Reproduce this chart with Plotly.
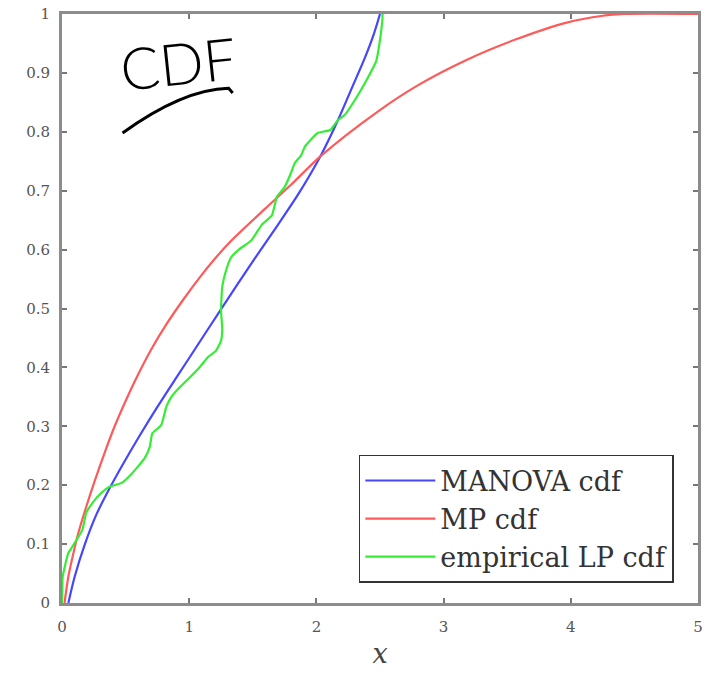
import plotly.graph_objects as go

# MANOVA cdf (blue)
manova_x = [0.05, 0.10, 0.18, 0.27, 0.37, 0.48, 0.61, 0.75, 0.90, 1.00, 1.26, 1.50, 1.70, 1.86, 2.04, 2.17, 2.28, 2.38, 2.45, 2.50]
manova_y = [0.00, 0.045, 0.10, 0.15, 0.193, 0.236, 0.284, 0.333, 0.383, 0.416, 0.502, 0.58, 0.643, 0.695, 0.762, 0.82, 0.875, 0.925, 0.965, 1.00]

# MP cdf (red)
mp_x = [0.02, 0.05, 0.09, 0.13, 0.19, 0.26, 0.34, 0.41, 0.50, 0.58, 0.70, 0.82, 0.95, 1.08, 1.20, 1.33, 1.60, 1.80, 2.04, 2.48, 2.79, 3.18, 3.57, 3.96, 4.25, 4.42, 5.00]
mp_y = [0.00, 0.045, 0.085, 0.12, 0.163, 0.209, 0.258, 0.298, 0.343, 0.38, 0.43, 0.473, 0.514, 0.552, 0.584, 0.615, 0.670, 0.710, 0.760, 0.834, 0.878, 0.922, 0.957, 0.985, 0.997, 1.00, 1.00]

# empirical LP cdf (green)
emp_x = [0.00, 0.005, 0.02, 0.05, 0.08, 0.16, 0.19, 0.24, 0.30, 0.37, 0.47, 0.55, 0.65, 0.69, 0.71, 0.78, 0.82, 0.86, 0.92, 1.00, 1.08, 1.15, 1.21, 1.25, 1.26, 1.25, 1.26, 1.29, 1.33, 1.39, 1.49, 1.57, 1.65, 1.69, 1.75, 1.80, 1.83, 1.88, 1.91, 2.01, 2.11, 2.17, 2.22, 2.32, 2.40, 2.47, 2.50, 2.52, 2.52]
emp_y = [0.00, 0.044, 0.06, 0.085, 0.095, 0.124, 0.153, 0.17, 0.185, 0.197, 0.204, 0.22, 0.246, 0.265, 0.288, 0.302, 0.333, 0.35, 0.365, 0.382, 0.40, 0.418, 0.428, 0.445, 0.465, 0.497, 0.537, 0.565, 0.587, 0.60, 0.616, 0.642, 0.658, 0.69, 0.706, 0.73, 0.747, 0.76, 0.775, 0.798, 0.803, 0.82, 0.828, 0.86, 0.89, 0.92, 0.956, 0.995, 1.00]

x_ticks = [0, 1, 2, 3, 4, 5]
y_ticks = [0, 0.1, 0.2, 0.3, 0.4, 0.5, 0.6, 0.7, 0.8, 0.9, 1]
y_tick_text = ["0", "0.1", "0.2", "0.3", "0.4", "0.5", "0.6", "0.7", "0.8", "0.9", "1"]

fig = go.Figure()
fig.add_trace(go.Scatter(x=manova_x, y=manova_y, mode="lines", name="MANOVA cdf",
                         line=dict(color="#4646ff", width=2.2, shape="spline", smoothing=0.8)))
fig.add_trace(go.Scatter(x=mp_x, y=mp_y, mode="lines", name="MP cdf",
                         line=dict(color="#ff5a5a", width=2.2, shape="spline", smoothing=0.8)))
fig.add_trace(go.Scatter(x=emp_x, y=emp_y, mode="lines", name="empirical LP cdf",
                         line=dict(color="#33ee33", width=2.2, shape="spline", smoothing=0.4)))

axis_common = dict(showgrid=False, zeroline=False, showline=True, linecolor="#8c8c8c", linewidth=3,
                   mirror="ticks", ticks="inside", ticklen=5, tickwidth=1.5, tickcolor="#777",
                   tickfont=dict(family="DejaVu Serif", size=15, color="#555"))

fig.update_xaxes(range=[0, 5], tickvals=x_ticks, ticktext=[str(v) for v in x_ticks],
                 ticklabelstandoff=8,
                 title=dict(text="<i>x</i>", font=dict(family="DejaVu Serif", size=27, color="#444"), standoff=10),
                 **axis_common)
fig.update_yaxes(range=[0, 1], tickvals=y_ticks, ticktext=y_tick_text, ticklabelstandoff=6,
                 **axis_common)

# handwritten "CDF" note
fig.add_annotation(x=0.91, y=0.918, xref="x", yref="y", text="CDF", showarrow=False,
                   font=dict(family="Lato", size=58, color="black", weight=300), textangle=-6)
fig.add_shape(type="path", xref="x", yref="y",
              path="M 0.476 0.798 Q 0.95 0.872 1.31 0.874 L 1.342 0.866",
              line=dict(color="black", width=3))

fig.update_layout(
    width=706, height=680,
    margin=dict(l=62, r=3, t=14, b=77),
    paper_bgcolor="white", plot_bgcolor="white",
    showlegend=True,
    legend=dict(x=0.962, y=0.034, xanchor="right", yanchor="bottom",
                bgcolor="white", bordercolor="#333", borderwidth=1.5,
                font=dict(family="DejaVu Serif", size=27, color="#333"),
                itemwidth=70, tracegroupgap=0),
)

fig.write_html("out.html")
